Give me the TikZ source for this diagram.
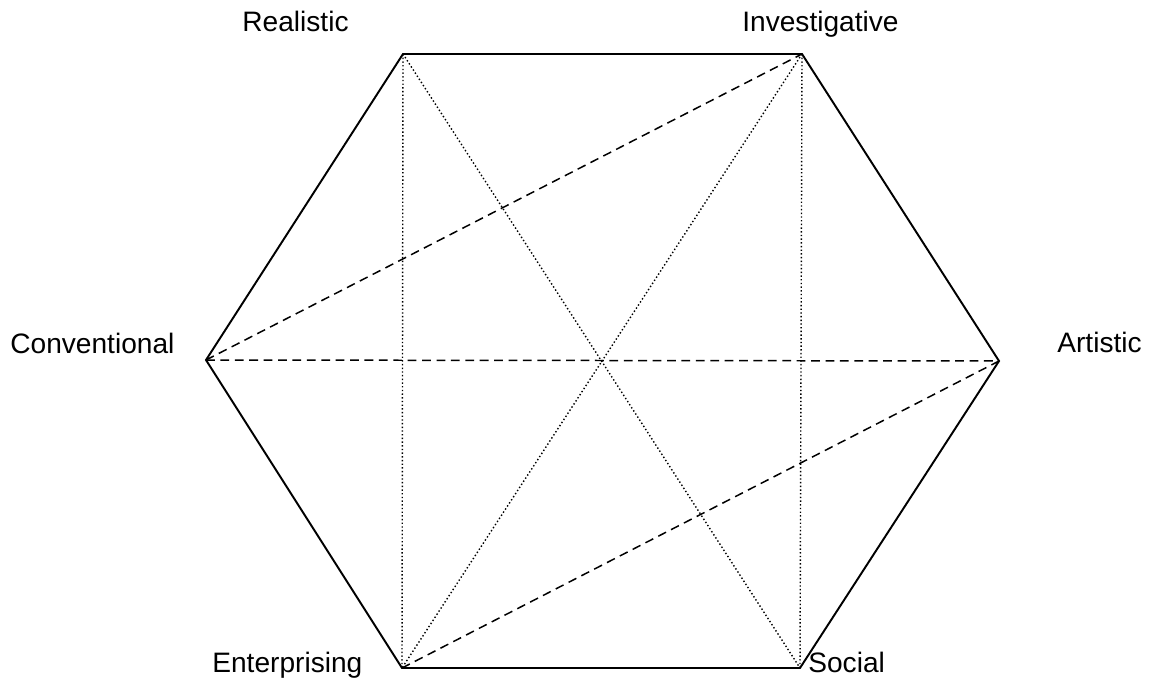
\documentclass[tikz,border=0pt]{standalone}
\usepackage{fontspec}
\setmainfont{Liberation Sans}
\usetikzlibrary{positioning}

\begin{document}
\begin{tikzpicture} [x=0.02cm, y=-0.02cm]
%cadre : fixe les marges de l'image
\useasboundingbox (0,0) rectangle (1152,679);
\tikzset{cote/.style={line width=1.1pt,line join=miter},
  tirets/.style={line width=0.85pt,dash pattern=on 5pt off 3.2pt},
  points/.style={line width=0.8pt,dash pattern=on 0.8pt off 1.3pt},
  etiq/.style={font=\fontsize{16}{19}\selectfont,inner sep=0pt,anchor=base west}} %définition des styles
\coordinate (R) at (403,54);
\coordinate (I) at (802,54);
\coordinate (A) at (999,361);
\coordinate (S) at (800,668);
\coordinate (E) at (402,668);
\coordinate (C) at (206,360);
\node[etiq] (lR) at (242,32) {Realistic};
\node[etiq] (lI) at (742,32) {Investigative};
\node[etiq] (lA) at (1057,352) {Artistic};
\node[etiq] (lS) at (808,672) {Social};
\node[etiq] (lE) at (212,672) {Enterprising};
\node[etiq] (lC) at (10,353) {Conventional};
%diagonales en pointillés
\draw[points] (R) -- (E);
\draw[points] (R) -- (S);
\draw[points] (I) -- (E);
\draw[points] (I) -- (S);
%diagonales en tirets
\draw[tirets] (C) -- (I);
\draw[tirets] (C) -- (A);
\draw[tirets] (E) -- (A);
%hexagone
\draw[cote] (R) -- (I) -- (A) -- (S) -- (E) -- (C) -- cycle;
\end{tikzpicture}
\end{document}
